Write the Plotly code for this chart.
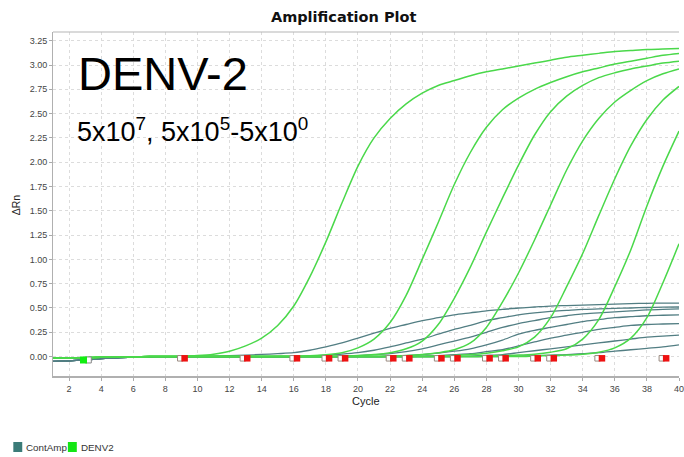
import plotly.graph_objects as go

# ---------------- data ----------------
cycles = list(range(1, 41))

# DENV2 (green) amplification curves: 5x10^7, 5x10^5 ... 5x10^0
denv_7 = [-0.015, -0.015, -0.012, -0.008, -0.004, -0.002, 0, 0, 0.003, 0.01,
          0.025, 0.055, 0.11, 0.19, 0.32, 0.52, 0.82, 1.18, 1.58, 1.96,
          2.25, 2.45, 2.6, 2.71, 2.79, 2.84, 2.89, 2.93, 2.96, 2.99,
          3.02, 3.05, 3.08, 3.1, 3.12, 3.14, 3.15, 3.16, 3.165, 3.17]
denv_5 = [-0.015, -0.015, -0.012, -0.008, -0.004, -0.002, 0, 0, 0, 0,
          0, 0, 0, 0, 0.002, 0.004, 0.008, 0.018, 0.04, 0.09,
          0.18, 0.35, 0.63, 1.0, 1.38, 1.77, 2.1, 2.36, 2.54, 2.66,
          2.75, 2.82, 2.88, 2.93, 2.97, 3.01, 3.04, 3.07, 3.1, 3.12]
denv_4 = [-0.015, -0.015, -0.012, -0.008, -0.004, -0.002, 0, 0, 0, 0,
          0, 0, 0, 0, 0, 0, 0, 0, 0.005, 0.01,
          0.02, 0.04, 0.08, 0.16, 0.33, 0.6, 0.92, 1.28, 1.63, 1.97,
          2.28, 2.52, 2.68, 2.79, 2.87, 2.92, 2.96, 2.99, 3.02, 3.04]
denv_3 = [-0.015, -0.015, -0.012, -0.008, -0.004, -0.002, 0, 0, 0, 0,
          0, 0, 0, 0, 0, 0, 0, 0, 0, 0,
          0, 0.005, 0.01, 0.02, 0.04, 0.07, 0.14, 0.3, 0.56, 0.86,
          1.2, 1.56, 1.92, 2.22, 2.45, 2.62, 2.74, 2.84, 2.91, 2.96]
denv_2 = [-0.015, -0.015, -0.012, -0.008, -0.004, -0.002, 0, 0, 0, 0,
          0, 0, 0, 0, 0, 0, 0, 0, 0, 0,
          0, 0, 0, 0, 0.005, 0.01, 0.02, 0.035, 0.06, 0.1,
          0.2, 0.4, 0.72, 1.06, 1.45, 1.83, 2.17, 2.44, 2.64, 2.78]
denv_1 = [-0.015, -0.015, -0.012, -0.008, -0.004, -0.002, 0, 0, 0, 0,
          0, 0, 0, 0, 0, 0, 0, 0, 0, 0,
          0, 0, 0, 0, 0, 0, 0, 0.005, 0.01, 0.015,
          0.025, 0.045, 0.08, 0.18, 0.38, 0.72, 1.1, 1.55, 1.96, 2.32]
denv_0 = [-0.015, -0.015, -0.012, -0.008, -0.004, -0.002, 0, 0, 0, 0,
          0, 0, 0, 0, 0, 0, 0, 0, 0, 0,
          0, 0, 0, 0, 0, 0, 0, 0, 0, 0,
          0.005, 0.01, 0.015, 0.025, 0.045, 0.09, 0.19, 0.4, 0.76, 1.16]

# ContAmp (teal) internal-control curves
cont_a = [-0.05, -0.045, -0.035, -0.022, -0.012, -0.006, -0.002, 0, 0, 0.002,
          0.005, 0.01, 0.015, 0.022, 0.03, 0.04, 0.065, 0.1, 0.14, 0.19,
          0.24, 0.29, 0.33, 0.37, 0.4, 0.43, 0.45, 0.47, 0.485, 0.5,
          0.51, 0.52, 0.525, 0.53, 0.535, 0.54, 0.545, 0.548, 0.55, 0.55]
cont_b = [-0.05, -0.045, -0.035, -0.022, -0.012, -0.006, -0.002, 0, 0, 0,
          0, 0, 0, 0, 0, 0, 0.005, 0.015, 0.025, 0.04,
          0.065, 0.1, 0.14, 0.18, 0.23, 0.28, 0.32, 0.37, 0.4, 0.43,
          0.45, 0.465, 0.475, 0.485, 0.49, 0.495, 0.5, 0.505, 0.508, 0.51]
cont_c = [-0.05, -0.045, -0.035, -0.022, -0.012, -0.006, -0.002, 0, 0, 0,
          0, 0, 0, 0, 0, 0, 0, 0, 0.005, 0.01,
          0.02, 0.03, 0.05, 0.08, 0.12, 0.16, 0.2, 0.25, 0.3, 0.34,
          0.37, 0.4, 0.42, 0.44, 0.45, 0.46, 0.47, 0.48, 0.485, 0.49]
cont_d = [-0.05, -0.045, -0.035, -0.022, -0.012, -0.006, -0.002, 0, 0, 0,
          0, 0, 0, 0, 0, 0, 0, 0, 0, 0,
          0, 0.005, 0.01, 0.02, 0.035, 0.055, 0.08, 0.12, 0.17, 0.23,
          0.27, 0.3, 0.33, 0.36, 0.38, 0.4, 0.41, 0.42, 0.425, 0.43]
cont_e = [-0.05, -0.045, -0.035, -0.022, -0.012, -0.006, -0.002, 0, 0, 0,
          0, 0, 0, 0, 0, 0, 0, 0, 0, 0,
          0, 0, 0, 0.005, 0.01, 0.02, 0.03, 0.05, 0.07, 0.11,
          0.15, 0.19, 0.22, 0.25, 0.28, 0.3, 0.32, 0.33, 0.335, 0.34]
cont_f = [-0.05, -0.045, -0.035, -0.022, -0.012, -0.006, -0.002, 0, 0, 0,
          0, 0, 0, 0, 0, 0, 0, 0, 0, 0,
          0, 0, 0, 0, 0, 0, 0.005, 0.012, 0.02, 0.04,
          0.06, 0.08, 0.1, 0.12, 0.14, 0.16, 0.18, 0.2, 0.21, 0.22]
cont_g = [-0.05, -0.045, -0.035, -0.022, -0.012, -0.006, -0.002, 0, 0, 0,
          0, 0, 0, 0, 0, 0, 0, 0, 0, 0,
          0, 0, 0, 0, 0, 0, 0, 0, 0, 0.005,
          0.01, 0.015, 0.02, 0.03, 0.04, 0.055, 0.07, 0.085, 0.1, 0.12]

denv_series = [denv_7, denv_5, denv_4, denv_3, denv_2, denv_1, denv_0]
cont_series = [cont_a, cont_b, cont_c, cont_d, cont_e, cont_f, cont_g]

# Ct markers (cycle positions) along the baseline
ct_cycles = [9.2, 13.1, 16.2, 18.2, 19.2, 22.2, 23.2, 25.2, 26.2, 28.2,
             29.2, 31.2, 32.2, 35.2, 39.2]
ct_level = -0.018
start_cycle = [2.9]
start_level = -0.035

x_ticks = list(range(2, 41, 2))
y_ticks = [0, 0.25, 0.5, 0.75, 1.0, 1.25, 1.5, 1.75, 2.0, 2.25, 2.5, 2.75, 3.0, 3.25]

legend_names = ["ContAmp", "DENV2"]
legend_colors = ["#3b7b78", "#14e614"]

title_text = "Amplification Plot"
big_label = "DENV-2"
sub_label = "5x10<sup>7</sup>, 5x10<sup>5</sup>-5x10<sup>0</sup>"

# ---------------- figure ----------------
TEAL = "#527e83"
GREEN = "#4ad84a"
W, H = 684, 457
ML, MR, MT, MB = 53, 0, 32, 81
PW, PH = W - ML - MR, H - MT - MB

def px(xp):
    return (xp - ML) / PW

def py(yp):
    return (MT + PH - yp) / PH

fig = go.Figure()
for s in cont_series:
    fig.add_trace(go.Scatter(x=cycles, y=s, mode="lines",
                             line=dict(color=TEAL, width=1.3, shape="spline", smoothing=0.8),
                             showlegend=False, hoverinfo="skip"))
for s in denv_series:
    fig.add_trace(go.Scatter(x=cycles, y=s, mode="lines",
                             line=dict(color=GREEN, width=1.5, shape="spline", smoothing=0.8),
                             showlegend=False, hoverinfo="skip"))

# hollow + red Ct squares
fig.add_trace(go.Scatter(x=[c - 0.27 for c in ct_cycles], y=[ct_level] * len(ct_cycles),
                         mode="markers",
                         marker=dict(symbol="square", size=5.5, color="white",
                                     line=dict(color="#9a8a80", width=1)),
                         showlegend=False, hoverinfo="skip"))
fig.add_trace(go.Scatter(x=ct_cycles, y=[ct_level] * len(ct_cycles), mode="markers",
                         marker=dict(symbol="square", size=6.5, color="#ee1111"),
                         showlegend=False, hoverinfo="skip"))
fig.add_trace(go.Scatter(x=[c + 0.3 for c in start_cycle], y=[start_level], mode="markers",
                         marker=dict(symbol="square", size=6, color="white",
                                     line=dict(color="#888", width=1)),
                         showlegend=False, hoverinfo="skip"))
fig.add_trace(go.Scatter(x=start_cycle, y=[start_level], mode="markers",
                         marker=dict(symbol="square", size=7, color="#11ee11"),
                         showlegend=False, hoverinfo="skip"))

font_family = "Liberation Sans, Arial, sans-serif"

fig.update_layout(
    width=W, height=H,
    margin=dict(l=ML, r=MR, t=MT, b=MB),
    paper_bgcolor="white", plot_bgcolor="white",
    showlegend=False,
    title=dict(text="<b>" + title_text + "</b>", x=px(346), xref="paper", xanchor="center",
               y=1 - 17 / H, yref="container", yanchor="middle",
               font=dict(family="DejaVu Sans", size=14.5, color="#111")),
    xaxis=dict(range=[1, 40.0], tickvals=x_ticks, ticks="outside", ticklen=3,
               tickcolor="#aaa", showline=True, linecolor="#b0b0b0", linewidth=2,
               showgrid=True, gridcolor="#dcdcdc", griddash="dot", gridwidth=1,
               ticklabeloverflow="allow",
               zeroline=False, tickfont=dict(family=font_family, size=9, color="#444")),
    yaxis=dict(range=[-0.2, 3.34], tickvals=y_ticks, tickformat=".2f", ticks="outside",
               ticklen=3, tickcolor="#aaa", showline=True, linecolor="#b0b0b0", linewidth=1,
               showgrid=True, gridcolor="#dcdcdc", griddash="dot", gridwidth=1,
               zeroline=False, tickfont=dict(family=font_family, size=9, color="#444")),
)

fig.add_shape(type="line", xref="paper", yref="paper", x0=0, x1=1, y0=1, y1=1,
              line=dict(color="#b5b5b5", width=1))

annos = [
    dict(text=big_label, x=px(76), y=py(73.5), xanchor="left", yanchor="middle",
         font=dict(family=font_family, size=47, color="black")),
    dict(text=sub_label, x=px(75), y=py(130), xanchor="left", yanchor="middle",
         font=dict(family=font_family, size=27, color="black")),
    dict(text="ΔRn", x=px(16), y=py(205), textangle=-90, xanchor="center", yanchor="middle",
         font=dict(family=font_family, size=10.5, color="#222")),
    dict(text="Cycle", x=px(369), y=py(401), xanchor="center", yanchor="middle",
         font=dict(family=font_family, size=11, color="#222")),
]
# custom legend
leg_x = [13, 68]
for name, col, lx in zip(legend_names, legend_colors, leg_x):
    fig.add_shape(type="rect", xref="paper", yref="paper",
                  x0=px(lx), x1=px(lx + 9), y0=py(452), y1=py(442),
                  line=dict(width=0), fillcolor=col)
    annos.append(dict(text=name, x=px(lx + 11), y=py(447), xanchor="left", yanchor="middle",
                      font=dict(family=font_family, size=9.8, color="#333")))

for a in annos:
    a.update(xref="paper", yref="paper", showarrow=False)
    fig.add_annotation(**a)

fig.write_html("out.html")
